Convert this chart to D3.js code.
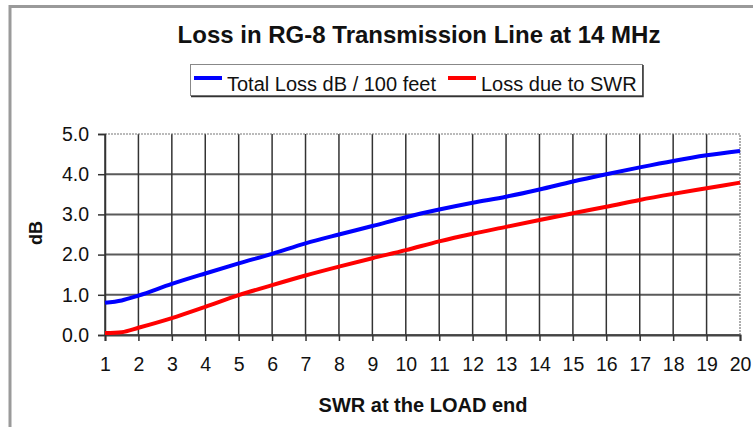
<!DOCTYPE html>
<html>
<head>
<meta charset="utf-8">
<script src="https://cdnjs.cloudflare.com/ajax/libs/d3/7.8.4/d3.min.js"></script>
<style>
  body { margin: 0; background: #fff; }
  svg { display: block; font-family: "Liberation Sans", Arial, sans-serif; }
</style>
</head>
<body>
<div id="chart"></div>
<script>
// SWR values
const swr = [1, 1.5, 2, 3, 4, 5, 6, 7, 8, 9, 10, 11, 12, 13, 14, 15, 16, 17, 18, 19, 20];
const totalLoss = [0.80, 0.86, 0.98, 1.27, 1.53, 1.78, 2.02, 2.28, 2.50, 2.71, 2.93, 3.12, 3.29, 3.44, 3.62, 3.82, 4.00, 4.17, 4.33, 4.47, 4.58];
const swrLoss = [0.05, 0.07, 0.18, 0.42, 0.70, 0.99, 1.24, 1.48, 1.70, 1.91, 2.11, 2.33, 2.52, 2.69, 2.86, 3.03, 3.19, 3.36, 3.51, 3.65, 3.79];
const xTicks = d3.range(1, 21);
const yTicks = [0, 1, 2, 3, 4, 5];
const seriesNames = ["Total Loss dB / 100 feet", "Loss due to SWR"];
const seriesColors = ["#0000ff", "#ff0000"];

const W = 753, H = 427;
const svg = d3.select("#chart").append("svg").attr("width", W).attr("height", H);

// cadre gris (haut et gauche)
svg.append("path")
  .attr("d", `M10,${H} L10,6.5 L${W},6.5`)
  .attr("fill", "none").attr("stroke", "#9a9a9a").attr("stroke-width", 3);

// Echelles
const x = d3.scaleLinear().domain([1, 20]).range([105, 740]);
const y = d3.scaleLinear().domain([0, 5]).range([335, 134]);

// Grille
const grid = svg.append("g");
grid.selectAll(".hgrid").data(yTicks.filter(d => d < 5)).join("line")
  .attr("x1", x(1)).attr("x2", x(20))
  .attr("y1", d => y(d)).attr("y2", d => y(d))
  .attr("stroke", "#5a5a5a").attr("stroke-width", 2);
grid.selectAll(".vgrid").data(xTicks.filter(d => d < 20)).join("line")
  .attr("x1", d => x(d)).attr("x2", d => x(d))
  .attr("y1", y(0)).attr("y2", y(5))
  .attr("stroke", "#333").attr("stroke-width", 1.5);
// bord haut et droit en pointillé
grid.append("path")
  .attr("d", `M${x(1)},${y(5)} L${x(20)},${y(5)} L${x(20)},${y(0)}`)
  .attr("fill", "none").attr("stroke", "#777").attr("stroke-width", 1.2)
  .attr("stroke-dasharray", "2,1");

// Axes
const yAxis = d3.axisLeft(y).tickValues(yTicks).tickFormat(d3.format(".1f"))
  .tickSize(7).tickPadding(9);
const gy = svg.append("g").attr("transform", `translate(${x(1)},0)`).call(yAxis);
gy.select(".domain").attr("stroke", "#333").attr("stroke-width", 1.5);

const xAxis = d3.axisBottom(x).tickValues(xTicks).tickFormat(d3.format("d"))
  .tickSize(6).tickPadding(16);
const gx = svg.append("g").attr("transform", `translate(0,${y(0)})`).call(xAxis);
gx.select(".domain").attr("stroke", "#444").attr("stroke-width", 2);

[gx, gy].forEach(g => {
  g.selectAll(".tick line").attr("stroke", "#333").attr("stroke-width", 1.5);
  g.selectAll(".tick text").attr("fill", "#111")
    .style("font-family", '"Liberation Sans", Arial, sans-serif')
    .style("font-size", "19.5px");
});

// Courbes
const line = d3.line().x(d => x(d[0])).y(d => y(d[1])).curve(d3.curveMonotoneX);
[totalLoss, swrLoss].forEach((vals, i) => {
  svg.append("path")
    .datum(swr.map((s, j) => [s, vals[j]]))
    .attr("fill", "none")
    .attr("stroke", seriesColors[i])
    .attr("stroke-width", 4)
    .attr("d", line);
});

// Titre
svg.append("text")
  .attr("x", 419).attr("y", 43)
  .attr("text-anchor", "middle")
  .style("font-size", "24px").style("font-weight", "bold").attr("fill", "#111")
  .text("Loss in RG-8 Transmission Line at 14 MHz");

// Légende
const legend = svg.append("g");
legend.append("rect")
  .attr("x", 190.5).attr("y", 64.5).attr("width", 452).attr("height", 31)
  .attr("fill", "#fff").attr("stroke", "#888").attr("stroke-width", 1);
legend.append("path")
  .attr("d", "M643,65 L643,96.5 L191,96.5")
  .attr("fill", "none").attr("stroke", "#333").attr("stroke-width", 1.5);
const legX = [194, 448];
seriesNames.forEach((name, i) => {
  legend.append("line")
    .attr("x1", legX[i]).attr("x2", legX[i] + 28)
    .attr("y1", 78).attr("y2", 78)
    .attr("stroke", seriesColors[i]).attr("stroke-width", 4);
  legend.append("text")
    .attr("x", legX[i] + 33).attr("y", 91)
    .style("font-size", "20px").attr("fill", "#111")
    .text(name);
});

// Titres des axes
svg.append("text")
  .attr("x", 423).attr("y", 412)
  .attr("text-anchor", "middle")
  .style("font-size", "20px").style("font-weight", "bold").attr("fill", "#111")
  .text("SWR at the LOAD end");

svg.append("text")
  .attr("transform", "translate(42,233) rotate(-90)")
  .attr("text-anchor", "middle")
  .style("font-size", "18px").style("font-weight", "bold").attr("fill", "#111")
  .text("dB");
</script>
</body>
</html>
